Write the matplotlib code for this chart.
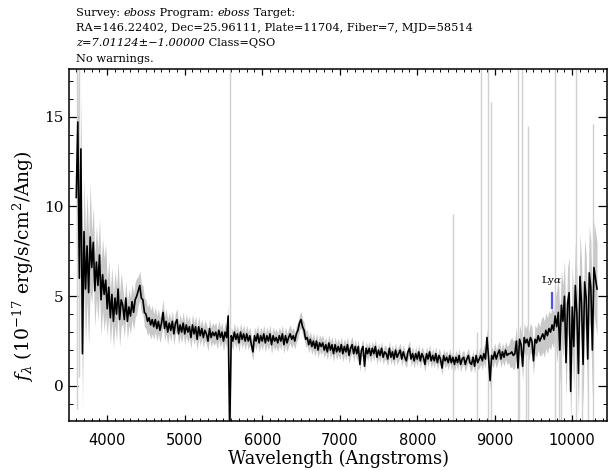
import numpy as np
import matplotlib
matplotlib.use("Agg")
import matplotlib.pyplot as plt
from matplotlib.ticker import MultipleLocator

plt.rcParams['mathtext.fontset'] = 'dejavuserif'

# smoothed flux, one value every 20 Angstroms starting at 3600
wave_start = 3600
wave_step = 20
flux = [
    10.5, 14.7, 6.0, 13.2, 1.8, 8.6, 5.4, 7.8, 5.2, 8.3,
    6.6, 8.0, 5.3, 6.9, 5.6, 7.3, 4.8, 6.2, 5.1, 5.9,
    4.3, 5.5, 3.8, 5.1, 3.6, 4.9, 4.0, 5.4, 3.7, 4.8,
    4.5, 3.7, 4.9, 3.6, 4.4, 3.9, 4.7, 4.1, 4.8, 5.0,
    5.3, 5.6, 4.9, 4.8, 4.1, 4.0, 3.6, 3.8, 3.4, 3.7,
    3.3, 3.7, 3.2, 3.6, 3.1, 3.5, 4.1, 3.2, 3.6, 3.0,
    3.5, 3.1, 3.6, 2.9, 3.5, 3.7, 2.9, 3.4, 3.0, 3.5,
    2.9, 3.4, 3.0, 3.3, 2.7, 3.4, 2.9, 3.3, 2.6, 3.3,
    2.8, 3.2, 2.7, 3.1, 2.9, 2.5, 3.2, 2.7, 3.0, 2.8,
    3.0, 2.6, 3.1, 2.7, 3.0, 2.5, 3.0, 2.7, 3.9, -2.6,
    2.8, 2.5, 3.0, 2.6, 2.9, 2.4, 3.0, 2.6, 2.9, 2.5,
    2.9, 2.5, 2.8, 2.3, 1.9, 2.8, 2.5, 2.9, 2.4, 2.8,
    2.5, 2.9, 2.4, 2.8, 2.5, 2.9, 2.3, 2.8, 2.5, 2.7,
    2.4, 2.8, 2.5, 2.9, 2.3, 2.8, 2.4, 2.7, 2.9, 2.6,
    2.8, 2.5, 2.9, 3.1, 3.5, 3.7, 3.3, 3.1, 2.6, 2.7,
    2.3, 2.6, 2.2, 2.5, 2.1, 2.5, 2.0, 2.4, 2.2, 2.4,
    2.0, 2.3, 1.9, 2.4, 2.0, 2.3, 1.8, 2.3, 1.9, 2.2,
    1.9, 2.3, 1.8, 2.2, 1.9, 2.3, 1.7, 2.1, 2.3, 1.8,
    2.2, 1.8, 2.2, 1.2, 2.0, 2.2, 1.1, 2.1, 1.8, 2.1,
    1.7, 2.1, 1.8, 2.2, 1.6, 2.0, 1.7, 2.1, 1.6, 1.9,
    1.8, 1.5, 2.1, 1.6, 1.9, 1.5, 2.0, 1.6, 1.8, 2.0,
    1.5, 1.9, 1.6, 1.4, 1.9, 2.1, 1.5, 1.8, 1.4, 1.8,
    1.5, 1.9, 1.4, 1.8, 1.6, 1.2, 1.8, 1.5, 1.9, 1.4,
    1.7, 1.4, 1.8, 1.3, 1.7, 1.5, 1.0, 1.7, 1.4, 1.6,
    1.3, 1.7, 1.3, 1.6, 1.2, 1.6, 1.3, 1.7, 1.2, 1.5,
    1.6, 1.2, 1.5, 1.7, 1.3, 1.2, 1.6, 1.1, 1.7, 1.3,
    1.5, 1.7, 1.4, 1.8, 1.5, 2.7, 1.6, 0.3, 1.7, 1.5,
    1.9, 1.5, 1.8, 2.0, 1.5, 1.9, 1.6, 2.0, 1.7, 1.8,
    1.8, 1.9, 1.7, 1.8, 2.5, 1.0, 2.6, 2.3, 1.1, 2.7,
    2.4, 2.6, 2.2, 2.7, 2.5, 1.4, 2.6, 2.4, 2.8, 2.5,
    2.7, 2.9, 2.6, 3.1, 2.8, 3.2, 3.0, 3.4, 3.1, 3.9,
    3.3, 4.1, 2.0, 4.5, 3.6, 5.0, 1.3, 4.6, 5.2, -0.3,
    4.4, 2.2, 5.6, 4.0, 0.7, 6.1, 4.6, 1.2, 5.8, 4.9,
    1.5, 6.3, 5.5, 2.0, 6.6, 6.0, 5.4,
]
# noise half-width of the raw flux, one value per 200 Angstroms
flux_err = [3.0, 2.0, 1.5, 1.0, 0.8, 0.7, 0.6, 0.6, 0.55, 0.55,
            0.5, 0.5, 0.5, 0.5, 0.45, 0.45, 0.45, 0.45, 0.4, 0.4,
            0.4, 0.4, 0.4, 0.4, 0.4, 0.4, 0.5, 0.5, 0.8, 0.8,
            1.0, 2.0, 2.4, 2.6]

# bad pixels / sky residuals in the raw flux
sky_wave = [3615, 3635, 5578, 8465, 8767, 8822, 8908, 8947, 9295, 9310,
            9346, 9400, 9432, 9776, 9830, 9860, 10055, 10130, 10200, 10270]
sky_lo = [-1.3, 0.5, -2, -2, -2, 1.5, -2, -2, -2, -2,
          2.5, -2, -2, -2, -2, -2, -2, -2, -2, -2]
sky_hi = [18, 18, 18, 9.6, 3.0, 18, 18, 15.8, 18, 2.0,
          18, 2.0, 14.5, 18, 3.0, 3.5, 18, 4.0, 4.5, 14.6]

z = 7.01124
lya_rest = 1215.67
lya_lo, lya_hi = 4.3, 5.25

wave = wave_start + wave_step * np.arange(len(flux))
flux = np.array(flux)
err = np.repeat(flux_err, 10)[:len(flux)]

fig = plt.figure(figsize=(6.13, 4.70), dpi=100)
ax = fig.add_axes([0.113, 0.105, 0.878, 0.7477])

ax.fill_between(wave, flux - err, flux + err, color='#c8c8c8', lw=0)
ax.vlines(sky_wave, sky_lo, sky_hi, color='#d0d0d0', lw=1.0)
ax.plot(wave, flux, color='black', lw=1.2)

lya = lya_rest * (1 + z)
ax.vlines(lya, lya_lo, lya_hi, color='#5050ff', lw=1.6)
ax.text(lya, lya_hi + 0.25, r'Ly$\alpha$', ha='center', va='bottom',
        fontsize=7.5, family='DejaVu Serif')

ax.set_xlim(3510, 10455)
ax.set_ylim(-1.93, 17.64)

ax.xaxis.set_major_locator(MultipleLocator(1000))
ax.xaxis.set_minor_locator(MultipleLocator(100))
ax.yaxis.set_major_locator(MultipleLocator(5))
ax.yaxis.set_minor_locator(MultipleLocator(1))
ax.tick_params(axis='both', which='both', direction='in', top=True, right=True)
ax.tick_params(axis='x', which='major', length=4.3, width=0.9, pad=9, labelsize=10.5)
ax.tick_params(axis='x', which='minor', length=2.2, width=0.7)
ax.tick_params(axis='y', which='major', length=6.5, width=0.9, pad=4, labelsize=11)
ax.tick_params(axis='y', which='minor', length=3.2, width=0.7)
for lab in ax.get_yticklabels():
    lab.set_family('DejaVu Serif')
for s in ax.spines.values():
    s.set_linewidth(1.1)

ax.set_xlabel('Wavelength (Angstroms)', family='DejaVu Serif', fontsize=12.8, labelpad=1)
ax.set_ylabel(r'$f_\lambda$ (10$^{-17}$ erg/s/cm$^2$/Ang)', family='DejaVu Serif',
              fontsize=13.5)
ax.yaxis.set_label_coords(-0.062, 0.44)

# header lines, pieces are (text, style)
header = [
    [('Survey: ', 'normal'), ('eboss', 'italic'), (' Program: ', 'normal'),
     ('eboss', 'italic'), (' Target:', 'normal')],
    [('RA=146.22402, Dec=25.96111, Plate=11704, Fiber=7, MJD=58514', 'normal')],
    [('z=7.01124\u00b1\u22121.00000', 'italic'), (' Class=QSO', 'normal')],
    [('No warnings.', 'normal')],
]
for k, parts in enumerate(header):
    y = 1 - (12.5 + 15.5 * k) / 470
    prev = fig.text(0.124, y, parts[0][0], style=parts[0][1], ha='left', va='center',
                    fontsize=8.2, family='DejaVu Serif')
    for txt, st in parts[1:]:
        prev = ax.annotate(txt, xy=(1, 0), xycoords=prev, ha='left', va='bottom',
                           style=st, fontsize=8.2, family='DejaVu Serif')

plt.savefig('out.png', dpi=100)
plt.close()
